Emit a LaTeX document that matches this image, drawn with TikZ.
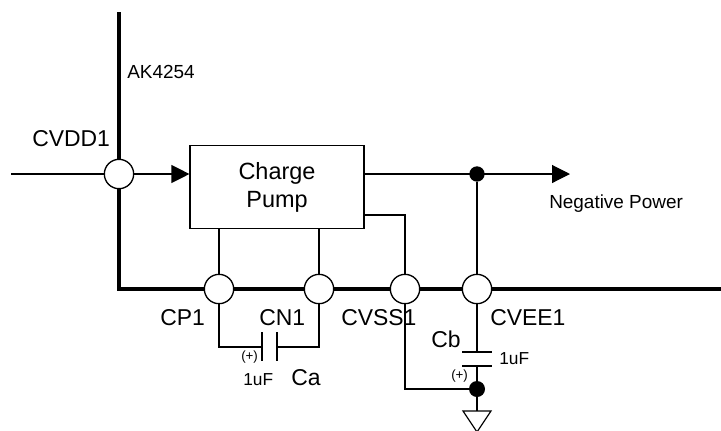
\documentclass[tikz,border=0pt]{standalone}
\usepackage{fontspec}
\setmainfont{Liberation Sans}
\usetikzlibrary{arrows.meta}
\tikzset{
  x=0.75pt,y=-0.75pt,
  bus/.style={line width=3.6pt},
  wire/.style={line width=0.85pt},
  pin/.style={circle,draw,fill=white,line width=1pt,minimum size=22pt,inner sep=0pt},
  dot/.style={circle,fill=black,minimum size=11.5pt,inner sep=0pt},
  lbl/.style={inner sep=0pt,font=\fontsize{17.2pt}{18pt}\selectfont},
  slbl/.style={inner sep=0pt,font=\fontsize{14.2pt}{16pt}\selectfont},
  ulbl/.style={inner sep=0pt,font=\fontsize{13pt}{14pt}\selectfont},
  tlbl/.style={inner sep=0pt,font=\fontsize{10pt}{11pt}\selectfont},
  arr/.style={wire,-{Triangle[length=13.5pt,width=13.5pt]}},
  plate/.style={line width=1.1pt},
}
\begin{document}
\begin{tikzpicture}
\useasboundingbox (0,0) rectangle (721,430);
\coordinate (bt) at (119,12);
\coordinate (bc) at (119,289);
\coordinate (be) at (721,289);
\draw[bus] (bt) -- (bc) -- (be);
\node[draw,wire,minimum width=130.5pt,minimum height=62pt,inner sep=0pt,align=center,font=\fontsize{17.6pt}{21pt}\selectfont] (cp) at (277,187) {Charge\\Pump};
\coordinate (in) at (11,174);
\node[pin] (cvdd) at (119,174) {};
\node[pin] (p1) at (219,289) {};
\node[pin] (n1) at (319,289) {};
\node[pin] (ss) at (405,289) {};
\node[pin] (ee) at (477,289) {};
\draw[wire] (in) -- (cvdd);
\draw[arr] (cvdd) -- (cvdd -| cp.west);
\node[dot] (d1) at (477,174) {};
\coordinate (outend) at (570,174);
\draw[arr] (cvdd -| cp.east) -- (outend);
\draw[wire] (d1) -- (ee);
\draw[wire] (p1 |- cp.south) -- (p1);
\draw[wire] (n1 |- cp.south) -- (n1);
\coordinate (ssout) at (364,215);
\draw[wire] (ssout) -- (405,215) -- (ss);
% Ca
\coordinate (cal) at (262,347);
\coordinate (car) at (277,347);
\draw[wire] (p1) -- (p1 |- cal) -- (cal);
\draw[wire] (n1) -- (n1 |- car) -- (car);
\draw[plate] (262,332) -- (262,361);
\draw[plate] (277,332) -- (277,361);
% Cb
\node[dot,minimum size=12pt] (d2) at (477,389) {};
\coordinate (cbt) at (477,352);
\coordinate (cbb) at (477,366);
\draw[wire] (ee) -- (cbt);
\draw[wire] (cbb) -- (d2);
\draw[plate] (462,352) -- (492,352);
\draw[plate] (462,366) -- (492,366);
\draw[wire] (ss) -- (405,389) -- (d2);
% ground
\coordinate (gt) at (477,411);
\draw[wire] (d2) -- (gt);
\draw[wire,line join=miter] (463,411) -- (491,411) -- (477,432) -- cycle;
% labels
\node[slbl,anchor=base west] (tak) at (127,78) {AK4254};
\node[lbl,anchor=base west] (tvdd) at (32,146) {CVDD1};
\node[slbl,anchor=base west] (tneg) at (549,208) {Negative Power};
\node[lbl,anchor=base west] (tp1) at (160,325) {CP1};
\node[lbl,anchor=base west] (tn1) at (259,325) {CN1};
\node[lbl,anchor=base west] (tss) at (341,325) {CVSS1};
\node[lbl,anchor=base west] (tee) at (490,325) {CVEE1};
\node[lbl,anchor=base west] (tcb) at (431,347) {Cb};
\node[ulbl,anchor=base west] (tcb2) at (499,364) {1uF};
\node[tlbl,anchor=base west] (tpb) at (451,379) {(+)};
\node[tlbl,anchor=base west] (tpa) at (241,360) {(+)};
\node[ulbl,anchor=base west] (tua) at (243,385) {1uF};
\node[lbl,anchor=base west] (tca) at (291,385) {Ca};
\end{tikzpicture}
\end{document}
